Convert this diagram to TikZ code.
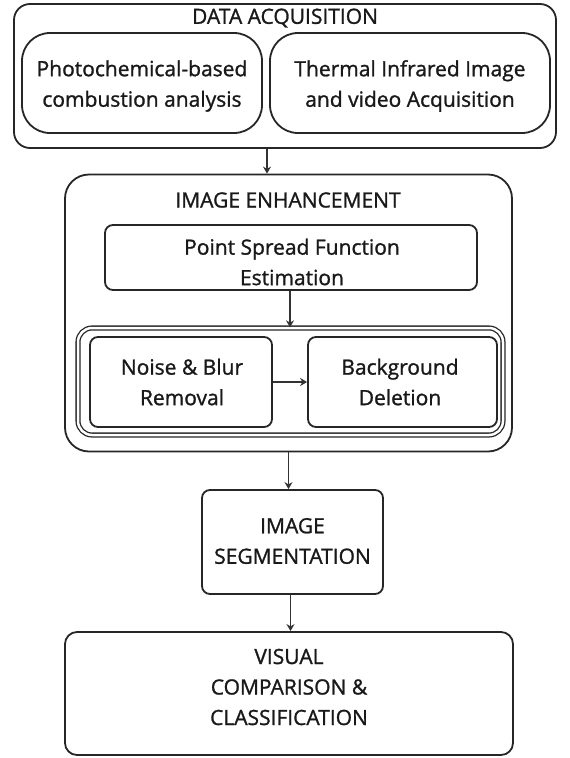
\documentclass[tikz,border=0pt]{standalone}
\usepackage{fontspec}
\setmainfont{Open Sans}
\newfontfamily\boxfont{Open Sans}[FakeBold=1.2]
\usetikzlibrary{arrows.meta,calc}
\begin{document}
\begin{tikzpicture}[x=1pt,y=-1pt,
  box/.style={draw=black!85, line width=1.8pt, rounded corners=#1, inner sep=0pt},
  box/.default=10pt,
  txt/.style={align=center, inner sep=0pt, text=black!90, font=\boxfont\fontsize{21}{30.5}\selectfont},
  arr/.style={draw=black!80, line width=1.8pt, -{Stealth[length=7pt,width=8pt]}}]
\useasboundingbox (0,0) rectangle (570,758);

% Data acquisition stage
\node[box=16pt, minimum width=542pt, minimum height=144pt] (da) at (285,76) {};
\node[txt] (datitle) at (285,18) {DATA ACQUISITION};
\node[box=28pt, minimum width=240pt, minimum height=100pt] (pc) at (142,83) {};
\node[txt] (pctext) at (142,86) {Photochemical-based\\combustion analysis};
\node[box=28pt, minimum width=280pt, minimum height=100pt] (ti) at (410,83) {};
\node[txt] (titext) at (410,86) {Thermal Infrared Image\\and video Acquisition};

% Image enhancement stage
\node[box=24pt, minimum width=447pt, minimum height=277pt] (ie) at (288.5,313) {};
\node[txt] (ietitle) at (288,200) {IMAGE ENHANCEMENT};
\node[box=8pt, minimum width=372pt, minimum height=65pt] (psf) at (291,257.5) {};
\node[txt] (psftext) at (292,262) {Point Spread Function\\Estimation};
\node[box=14pt, double, double distance=2.5pt, line width=1.3pt,
      minimum width=425pt, minimum height=107pt] (grp) at (290.5,381.5) {};
\node[box=8pt, minimum width=182pt, minimum height=90pt] (nb) at (181,382) {};
\node[txt] (nbtext) at (182,382) {Noise \& Blur\\Removal};
\node[box=8pt, minimum width=189pt, minimum height=90pt] (bd) at (402.5,382) {};
\node[txt] (bdtext) at (400,382) {Background\\Deletion};

% Segmentation and classification
\node[box=8pt, minimum width=181pt, minimum height=104pt] (seg) at (292.5,542) {};
\node[txt] (segtext) at (292.5,541) {IMAGE\\SEGMENTATION};
\node[box=12pt, minimum width=448pt, minimum height=123pt] (vis) at (289,693.5) {};
\node[txt] (vistext) at (289,687) {VISUAL\\COMPARISON \&\\CLASSIFICATION};

% Connectors
\draw[arr] ([xshift=-18pt]da.south) -- ([xshift=-18pt]da.south |- ie.north);
\draw[arr] ([xshift=-1pt]psf.south) -- ([xshift=-1pt]psf.south |- grp.north);
\draw[arr] (nb.east) -- (bd.west);
\draw[arr] (ie.south) -- (ie.south |- seg.north);
\draw[arr] ([xshift=-2pt]seg.south) -- ([xshift=-2pt]seg.south |- vis.north);
\end{tikzpicture}
\end{document}
